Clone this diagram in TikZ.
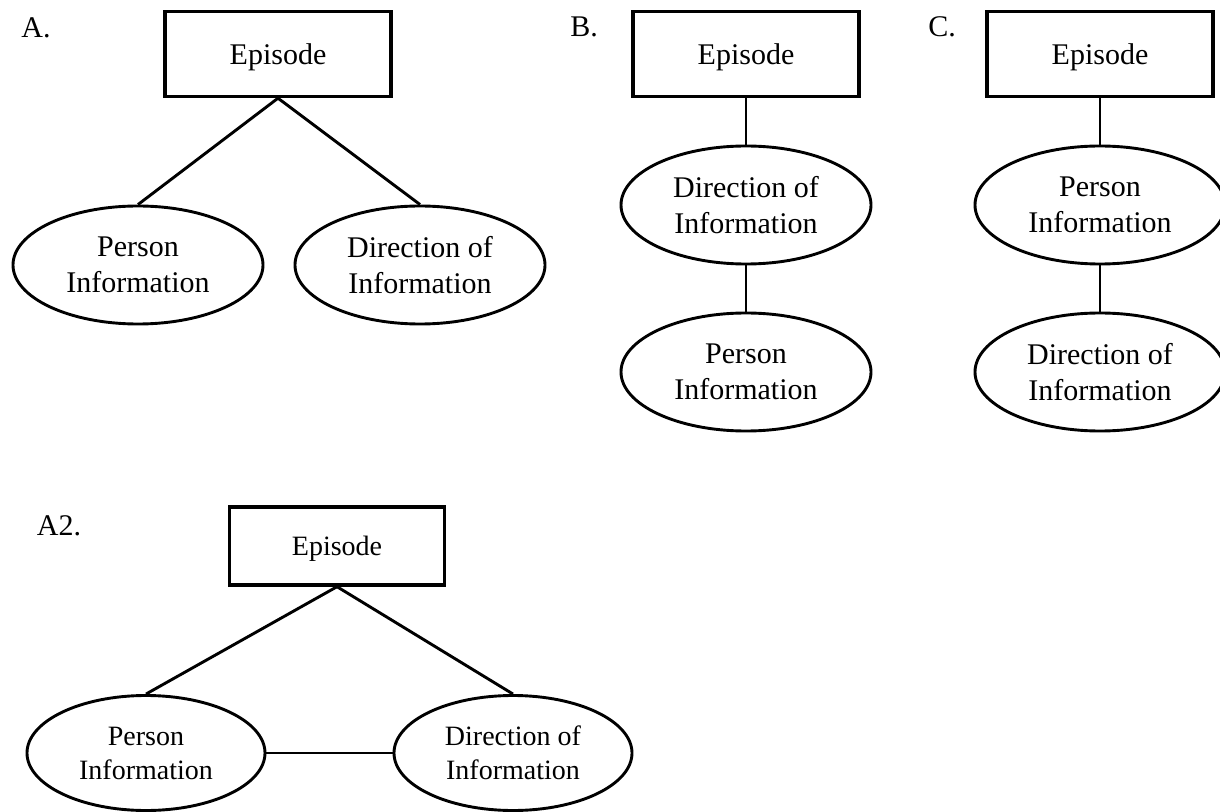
\documentclass[tikz,border=0pt]{standalone}
\usepackage{fontspec}
\setmainfont{Liberation Serif}
\usetikzlibrary{shapes.geometric}
\tikzset{
  epbox/.style={draw, line width=1.7pt, rectangle, inner sep=0pt,
    minimum width=113pt, minimum height=42.5pt, text depth=0pt,
    font=\fontsize{15}{18}\selectfont},
  infoell/.style={draw, line width=1.45pt, ellipse, inner sep=0pt,
    minimum width=125pt, minimum height=59pt, align=center,
    font=\fontsize{15}{18}\selectfont},
  smallbox/.style={epbox, minimum width=107.5pt, minimum height=39pt,
    font=\fontsize{14}{17}\selectfont},
  smallell/.style={infoell, minimum width=119pt, minimum height=57.5pt,
    font=\fontsize{14}{17}\selectfont},
  panel/.style={inner sep=0pt, font=\fontsize{15}{18}\selectfont},
  link/.style={line width=1.45pt},
  thinlink/.style={line width=0.9pt}
}
\begin{document}
\begin{tikzpicture}[x=0.5pt, y=-0.5pt]
\useasboundingbox (0,0) rectangle (1220,812);

% panel A: episode with two independent children
\node[panel] (labA) at (36,28) {A.};
\node[epbox] (epA) at (278,54) {Episode};
\node[infoell] (perA) at (138,265) {Person\\Information};
\node[infoell] (dirA) at (420,265) {Direction of\\Information};
\draw[link] (epA.south) -- (perA.north);
\draw[link] (epA.south) -- (dirA.north);

% panel B: direction first, then person
\node[panel] (labB) at (584,27) {B.};
\node[epbox] (epB) at (746,54) {Episode};
\node[infoell] (dirB) at (746,205) {Direction of\\Information};
\node[infoell] (perB) at (746,372) {Person\\Information};
\draw[link] (epB.south) -- (dirB.north);
\draw[link] (dirB.south) -- (perB.north);

% panel C: person first, then direction
\node[panel] (labC) at (942,27) {C.};
\node[epbox] (epC) at (1100,54) {Episode};
\node[infoell] (perC) at (1100,205) {Person\\Information};
\node[infoell] (dirC) at (1100,372) {Direction of\\Information};
\draw[link] (epC.south) -- (perC.north);
\draw[link] (perC.south) -- (dirC.north);

% panel A2: both children, also linked to each other
\node[panel] (labA2) at (59,526) {A2.};
\node[smallbox] (epA2) at (337,546) {Episode};
\node[smallell] (perA2) at (146,753) {Person\\Information};
\node[smallell] (dirA2) at (513,753) {Direction of\\Information};
\draw[link] (epA2.south) -- (perA2.north);
\draw[link] (epA2.south) -- (dirA2.north);
\draw[thinlink] (perA2.east) -- (dirA2.west);
\end{tikzpicture}
\end{document}
